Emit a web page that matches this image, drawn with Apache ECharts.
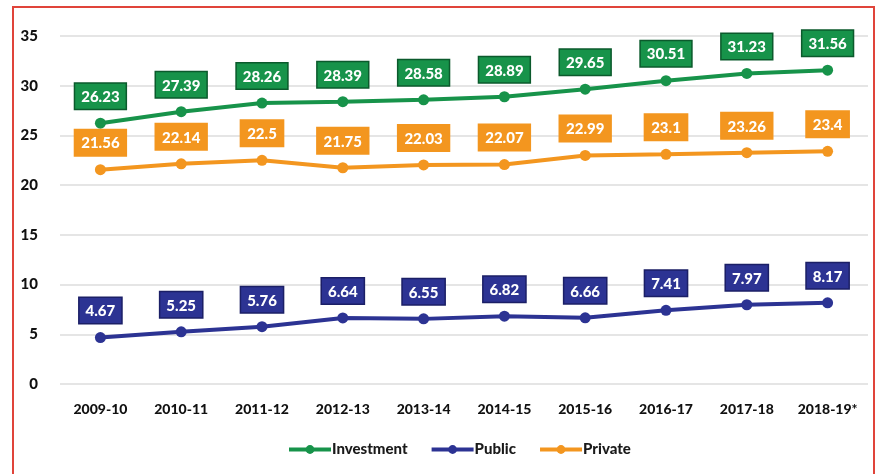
<!DOCTYPE html>
<html>
<head>
<meta charset="utf-8">
<script src="https://cdn.jsdelivr.net/npm/echarts@6/dist/echarts.min.js"></script>
<style>
  html, body { margin: 0; padding: 0; background: #fff; }
  #frame { position: absolute; left: 12px; top: 6px; width: 859px; height: 480px;
    border-left: 2px solid #e0443a; border-top: 2px solid #e0443a; border-right: 2px solid #e0443a; }
  #chart { position: absolute; left: 0; top: 0; width: 879px; height: 474px; }
</style>
</head>
<body>
<div id="frame"></div>
<div id="chart"></div>
<script>
const years = ["2009-10", "2010-11", "2011-12", "2012-13", "2013-14", "2014-15", "2015-16", "2016-17", "2017-18", "2018-19*"];
const investment = [26.23, 27.39, 28.26, 28.39, 28.58, 28.89, 29.65, 30.51, 31.23, 31.56];
const publicInv = [4.67, 5.25, 5.76, 6.64, 6.55, 6.82, 6.66, 7.41, 7.97, 8.17];
const privateInv = [21.56, 22.14, 22.5, 21.75, 22.03, 22.07, 22.99, 23.1, 23.26, 23.4];

const font = "Lato, 'Open Sans', sans-serif";

function makeSeries(name, data, color, border) {
  return {
    name: name,
    type: "line",
    data: data,
    symbol: "circle",
    symbolSize: 11,
    lineStyle: { width: 4, color: color },
    itemStyle: { color: color },
    label: {
      show: true,
      position: "top",
      distance: 9,
      color: "#fff",
      fontFamily: font,
      fontWeight: 900,
      fontSize: 15,
      backgroundColor: color,
      borderColor: border,
      borderWidth: 1.5,
      padding: [6, 6, 4, 6]
    }
  };
}

const chart = echarts.init(document.getElementById("chart"));
chart.setOption({
  animation: false,
  grid: { left: 60, right: 11, top: 36, bottom: 90 },
  legend: {
    bottom: 12,
    left: 282,
    itemWidth: 42,
    itemHeight: 11,
    itemGap: 22,
    lineStyle: { width: 4 },
    textStyle: { fontFamily: font, fontWeight: 900, fontSize: 15, color: "#1a1a1a", padding: [0, 0, 0, -4] },
    data: ["Investment", "Public", "Private"]
  },
  xAxis: {
    type: "category",
    data: years,
    axisLine: { show: false },
    axisTick: { show: false },
    axisLabel: { color: "#111", fontFamily: font, fontWeight: 900, fontSize: 14, margin: 18 }
  },
  yAxis: {
    type: "value",
    min: 0,
    max: 35,
    interval: 5,
    splitLine: { lineStyle: { color: "#dcdcdc", width: 1.5 } },
    axisLabel: { color: "#111", fontFamily: font, fontWeight: 900, fontSize: 15, margin: 22 }
  },
  series: [
    makeSeries("Investment", investment, "#17934a", "#0b5a2c"),
    makeSeries("Public", publicInv, "#2c3393", "#1b1f66"),
    makeSeries("Private", privateInv, "#f3961f", "#f3961f")
  ]
});
</script>
</body>
</html>
